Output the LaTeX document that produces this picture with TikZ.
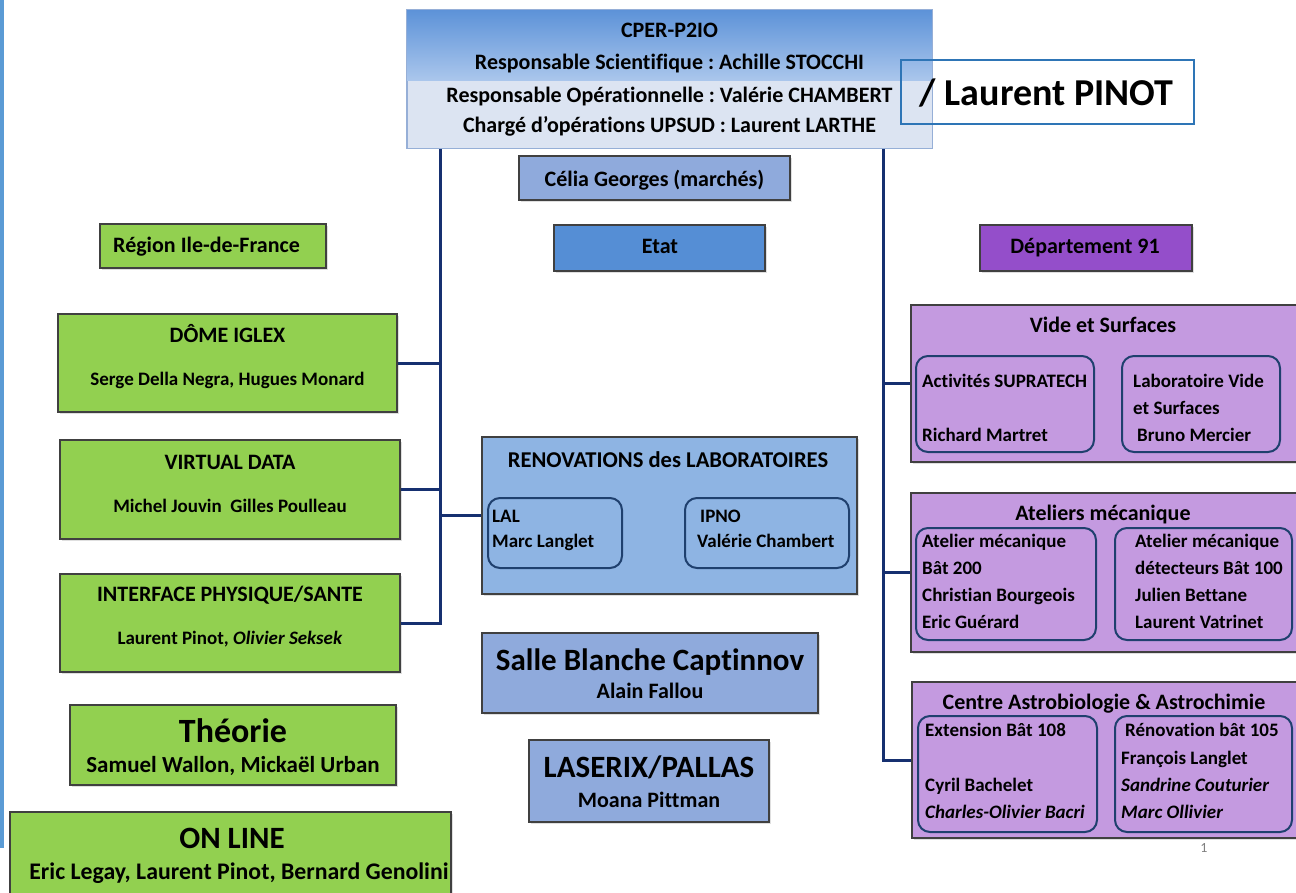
\documentclass[tikz,border=0pt]{standalone}
\usepackage{fontspec}
\setmainfont{Carlito}[Ligatures=NoCommon]
\usetikzlibrary{fit,shadows}
\frenchspacing
\tikzset{
  box/.style={
    draw=boxline,
    line width=1.4pt,
    inner sep=0pt,
    drop shadow={opacity=0.25, shadow xshift=2pt, shadow yshift=-2pt}
  },
  box-green/.style={box, fill=boxgreen},
  box-blue/.style={box, fill=boxblue},
  box-etat/.style={box, fill=etatblue},
  box-renov/.style={box, fill=renovblue},
  box-dep/.style={box, fill=depviolet},
  box-purple/.style={box, fill=boxpurple},
  sub-box/.style={draw=subline, line width=2pt, rounded corners=12pt, inner sep=0pt},
  link/.style={draw=linknavy, line width=3pt},
  txt/.style={inner sep=0pt, font=\bfseries\fontsize{22}{26}\selectfont, text height=14pt, text depth=0pt},
  txt-small/.style={txt, font=\bfseries\fontsize{19}{23}\selectfont, text height=12.2pt},
  txt-mid/.style={txt, font=\bfseries\fontsize{23}{27}\selectfont, text height=14.7pt},
  txt-big/.style={txt, font=\bfseries\fontsize{31}{36}\selectfont, text height=20pt},
  txt-left/.style={txt-small, anchor=west}
}
\definecolor{boxline}{RGB}{64,64,64}
\definecolor{boxgreen}{RGB}{146,208,80}
\definecolor{boxblue}{RGB}{143,170,220}
\definecolor{etatblue}{RGB}{85,142,213}
\definecolor{renovblue}{RGB}{142,180,227}
\definecolor{depviolet}{RGB}{148,78,202}
\definecolor{boxpurple}{RGB}{196,154,224}
\definecolor{subline}{RGB}{31,64,110}
\definecolor{linknavy}{RGB}{22,48,112}
\definecolor{cperdark}{RGB}{92,146,216}
\definecolor{cpermid}{RGB}{170,198,236}
\definecolor{cperlight}{RGB}{220,228,242}
\definecolor{cperline}{RGB}{150,175,215}
\definecolor{pinotline}{RGB}{46,117,182}
\definecolor{slidebar}{RGB}{91,155,213}
\newcommand{\slideframe}{
  \useasboundingbox (0,0) rectangle (1296,892);
  \fill[slidebar] (0,0) rectangle (4,848);
}

\begin{document}
\begin{tikzpicture}[x=1pt, y=-1pt]
  \slideframe
  % Top box
  \node[draw=cperline, line width=1pt, fill=cperlight, inner sep=0pt, fit={(407,10) (932,148)}] (cper) {};
  \shade[top color=cperdark, bottom color=cpermid] (cper.north west) rectangle (cper.east |- 0,80);
  \draw[cperline, line width=1pt] (cper.north west) rectangle (cper.south east);
  \node[txt] (cper-t1) at (669.5,30) {CPER-P2IO};
  \node[txt] (cper-t2) at (669.5,62) {Responsable Scientifique : Achille STOCCHI};
  \node[txt] (cper-t3) at (669.5,95) {Responsable Opérationnelle : Valérie CHAMBERT};
  \node[txt] (cper-t4) at (669.5,125) {Chargé d’opérations UPSUD : Laurent LARTHE};
  \node[draw=pinotline, line width=2.5pt, inner sep=0pt, fit={(901,60) (1194,124)}] (pinot) {};
  \node[txt, font=\bfseries\fontsize{38}{44}\selectfont, text height=24.3pt] (pinot-t) at (1046.5,93) {/ Laurent PINOT};
  \node[box-blue, fit={(519,156) (790,200)}] (celia) {};
  \node[txt] (celia-t) at (654.5,179) {Célia Georges (marchés)};

  % Funding bodies
  \node[box-green, fit={(100,224) (326,268)}] (region) {};
  \node[txt] (region-t) at (206.5,245) {Région Ile-de-France};
  \node[box-etat, fit={(554,225) (765,271)}] (etat) {};
  \node[txt] (etat-t) at (660,246) {Etat};
  \node[box-dep, fit={(980,225) (1192,271)}] (dep) {};
  \node[txt] (dep-t) at (1085,246) {Département 91};

  % Left column
  \node[box-green, fit={(58,314) (397,412)}] (dome) {};
  \node[txt] (dome-t) at (227.5,335) {DÔME IGLEX};
  \node[txt-small] (dome-n) at (227.5,379) {Serge Della Negra, Hugues Monard};
  \node[box-green, fit={(60,440) (400,539)}] (virt) {};
  \node[txt] (virt-t) at (230,462) {VIRTUAL DATA};
  \node[txt-small] (virt-n) at (230,506) {Michel Jouvin\ \ Gilles Poulleau};
  \node[box-green, fit={(60,574) (400,672)}] (iface) {};
  \node[txt] (iface-t) at (230,594) {INTERFACE PHYSIQUE/SANTE};
  \node[txt-small] (iface-n) at (230,638) {Laurent Pinot, \textit{Olivier Seksek}};
  \node[box-green, fit={(70,705) (396,785)}] (theo) {};
  \node[txt-big, font=\bfseries\fontsize{34}{40}\selectfont, text height=21.8pt] (theo-t) at (233,732) {Théorie};
  \node[txt-mid] (theo-n) at (233,765) {Samuel Wallon, Mickaël Urban};
  \node[box-green, fit={(10,812) (451,900)}] (online) {};
  \node[txt-big] (online-t) at (232,838) {ON LINE};
  \node[txt-mid, font=\bfseries\fontsize{23.8}{28}\selectfont] (online-n) at (239,872) {Eric Legay, Laurent Pinot, Bernard Genolini};

  % Middle column
  \node[box-renov, fit={(482,437) (857,594)}] (renov) {};
  \node[txt, font=\bfseries\fontsize{22.6}{26}\selectfont] (renov-t) at (668,460) {RENOVATIONS des LABORATOIRES};
  \node[sub-box, fit={(488,498) (622,568)}] (lal) {};
  \node[txt-left] (lal-t) at (492,516) {LAL};
  \node[txt-left] (lal-n) at (492,541) {Marc Langlet};
  \node[sub-box, fit={(685,498) (849,568)}] (ipno) {};
  \node[txt-left] (ipno-t) at (700,516) {IPNO};
  \node[txt-left] (ipno-n) at (697,541) {Valérie Chambert};
  \node[box-blue, fit={(482,633) (818,713)}] (salle) {};
  \node[txt-big] (salle-t) at (650,660) {Salle Blanche Captinnov};
  \node[txt] (salle-n) at (650,691) {Alain Fallou};
  \node[box-blue, fit={(529,740) (769,822)}] (laser) {};
  \node[txt-big] (laser-t) at (649,767) {LASERIX/PALLAS};
  \node[txt] (laser-n) at (649,800) {Moana Pittman};

  % Right column
  \node[box-purple, fit={(911,305) (1300,462)}] (vide) {};
  \node[txt] (vide-t) at (1103,325) {Vide et Surfaces};
  \node[sub-box, fit={(916,356) (1094,452)}] (supra) {};
  \node[txt-left] (supra-t) at (922,381) {Activités SUPRATECH};
  \node[txt-left] (supra-n) at (922,435) {Richard Martret};
  \node[sub-box, fit={(1122,356) (1280,452)}] (labvs) {};
  \node[txt-left] (labvs-t1) at (1133,381) {Laboratoire Vide};
  \node[txt-left] (labvs-t2) at (1133,408) {et Surfaces};
  \node[txt-left] (labvs-n) at (1137,435) {Bruno Mercier};
  \node[box-purple, fit={(911,493) (1300,652)}] (atel) {};
  \node[txt] (atel-t) at (1103,513) {Ateliers mécanique};
  \node[sub-box, fit={(916,528) (1096,640)}] (atel200) {};
  \node[txt-left] (atel200-t1) at (922,541) {Atelier mécanique};
  \node[txt-left] (atel200-t2) at (922,568) {Bât 200};
  \node[txt-left] (atel200-n1) at (922,595) {Christian Bourgeois};
  \node[txt-left] (atel200-n2) at (922,622) {Eric Guérard};
  \node[sub-box, fit={(1115,528) (1292,640)}] (atel100) {};
  \node[txt-left] (atel100-t1) at (1135,541) {Atelier mécanique};
  \node[txt-left] (atel100-t2) at (1135,568) {détecteurs Bât 100};
  \node[txt-left] (atel100-n1) at (1135,595) {Julien Bettane};
  \node[txt-left] (atel100-n2) at (1135,622) {Laurent Vatrinet};
  \node[box-purple, fit={(912,682) (1300,838)}] (astro) {};
  \node[txt] (astro-t) at (1104,702) {Centre Astrobiologie \& Astrochimie};
  \node[sub-box, fit={(918,716) (1097,832)}] (bat108) {};
  \node[txt-left] (bat108-t) at (925,730) {Extension Bât 108};
  \node[txt-left] (bat108-n1) at (925,785) {Cyril Bachelet};
  \node[txt-left] (bat108-n2) at (925,812) {\textit{Charles-Olivier Bacri}};
  \node[sub-box, fit={(1115,716) (1292,832)}] (bat105) {};
  \node[txt-left] (bat105-t) at (1125,730) {Rénovation bât 105};
  \node[txt-left] (bat105-n1) at (1121,758) {François Langlet};
  \node[txt-left] (bat105-n2) at (1121,785) {\textit{Sandrine Couturier}};
  \node[txt-left] (bat105-n3) at (1121,812) {\textit{Marc Ollivier}};

  % Links
  \coordinate (lsp) at (440,0);
  \coordinate (rsp) at (883,0);
  \draw[link] (iface.east) -| (cper.south -| lsp);
  \draw[link] (dome.east) -- (dome.east -| lsp);
  \draw[link] (virt.east) -- (virt.east -| lsp);
  \draw[link] (renov.west) -- (renov.west -| lsp);
  \draw[link] (astro.west) -| (cper.south -| rsp);
  \draw[link] (vide.west) -- (vide.west -| rsp);
  \draw[link] (atel.west) -- (atel.west -| rsp);

  \node[inner sep=0pt, text=gray, font=\fontsize{14}{16}\selectfont] (pagenum) at (1204,848) {1};
\end{tikzpicture}
\end{document}
